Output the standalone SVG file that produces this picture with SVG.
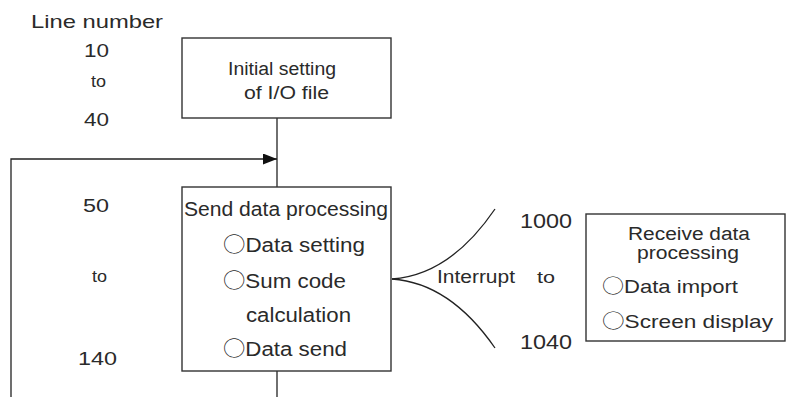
<svg xmlns="http://www.w3.org/2000/svg" width="786" height="397" viewBox="0 0 786 397">
<style>
text{font-family:"Liberation Sans",Arial,sans-serif;fill:#2a2a2a;}
.c{font-family:"Noto Sans CJK JP","Noto Sans CJK SC",sans-serif;font-weight:300;}
.box{fill:#fff;stroke:#333;stroke-width:1.4;}
.ln{fill:none;stroke:#222;stroke-width:1.3;}
</style>
<defs>
<marker id="ah" markerWidth="14" markerHeight="11" refX="14" refY="5.5" orient="auto" markerUnits="userSpaceOnUse">
<path d="M0,0 L14,5.5 L0,11 Z" fill="#111"/>
</marker>
</defs>
<rect width="786" height="397" fill="#fff"/>
<g id="labels">
<text x="31" y="28" font-size="19" textLength="132" lengthAdjust="spacingAndGlyphs">Line number</text>
<text x="84" y="57" font-size="19" textLength="25" lengthAdjust="spacingAndGlyphs">10</text>
<text x="91" y="87" font-size="16" textLength="15" lengthAdjust="spacingAndGlyphs">to</text>
<text x="84" y="126" font-size="19" textLength="25" lengthAdjust="spacingAndGlyphs">40</text>
<text x="83" y="212" font-size="19" textLength="26" lengthAdjust="spacingAndGlyphs">50</text>
<text x="92" y="282" font-size="16" textLength="15" lengthAdjust="spacingAndGlyphs">to</text>
<text x="78" y="365" font-size="19" textLength="39" lengthAdjust="spacingAndGlyphs">140</text>
<text x="520" y="228" font-size="20" textLength="52" lengthAdjust="spacingAndGlyphs">1000</text>
<text x="520" y="349" font-size="20" textLength="52" lengthAdjust="spacingAndGlyphs">1040</text>
<text x="437" y="283" font-size="18" textLength="78" lengthAdjust="spacingAndGlyphs">Interrupt</text>
<text x="537" y="283" font-size="16" textLength="18" lengthAdjust="spacingAndGlyphs">to</text>
</g>
<g id="connectors">
<line class="ln" x1="277" y1="118" x2="277" y2="187"/>
<polyline class="ln" points="11,397 11,159 277,159" marker-end="url(#ah)"/>
<line class="ln" x1="277" y1="371" x2="277" y2="397"/>
<path class="ln" d="M392,279 Q450,275 495,209"/>
<path class="ln" d="M392,279 Q450,283 495,348"/>
</g>
<g id="node-init">
<rect class="box" x="182" y="38" width="209" height="80"/>
<text x="228" y="75" font-size="18" textLength="108" lengthAdjust="spacingAndGlyphs">Initial setting</text>
<text x="244" y="99" font-size="18" textLength="85" lengthAdjust="spacingAndGlyphs">of I/O file</text>
</g>
<g id="node-send">
<rect class="box" x="182" y="187" width="209" height="184"/>
<text x="184" y="216" font-size="20" textLength="204" lengthAdjust="spacingAndGlyphs">Send data processing</text>
<text x="223" y="252" font-size="20" textLength="142" lengthAdjust="spacingAndGlyphs"><tspan class="c">○</tspan>Data setting</text>
<text x="223" y="288" font-size="20" textLength="123" lengthAdjust="spacingAndGlyphs"><tspan class="c">○</tspan>Sum code</text>
<text x="246" y="322" font-size="20" textLength="105" lengthAdjust="spacingAndGlyphs">calculation</text>
<text x="223" y="356" font-size="20" textLength="124" lengthAdjust="spacingAndGlyphs"><tspan class="c">○</tspan>Data send</text>
</g>
<g id="node-receive">
<rect class="box" x="586" y="214" width="199" height="127"/>
<text x="628" y="240" font-size="18" textLength="122" lengthAdjust="spacingAndGlyphs">Receive data</text>
<text x="637" y="259" font-size="18" textLength="102" lengthAdjust="spacingAndGlyphs">processing</text>
<text x="602" y="293" font-size="19" textLength="136" lengthAdjust="spacingAndGlyphs"><tspan class="c">○</tspan>Data import</text>
<text x="602" y="328" font-size="19" textLength="171" lengthAdjust="spacingAndGlyphs"><tspan class="c">○</tspan>Screen display</text>
</g>
</svg>
